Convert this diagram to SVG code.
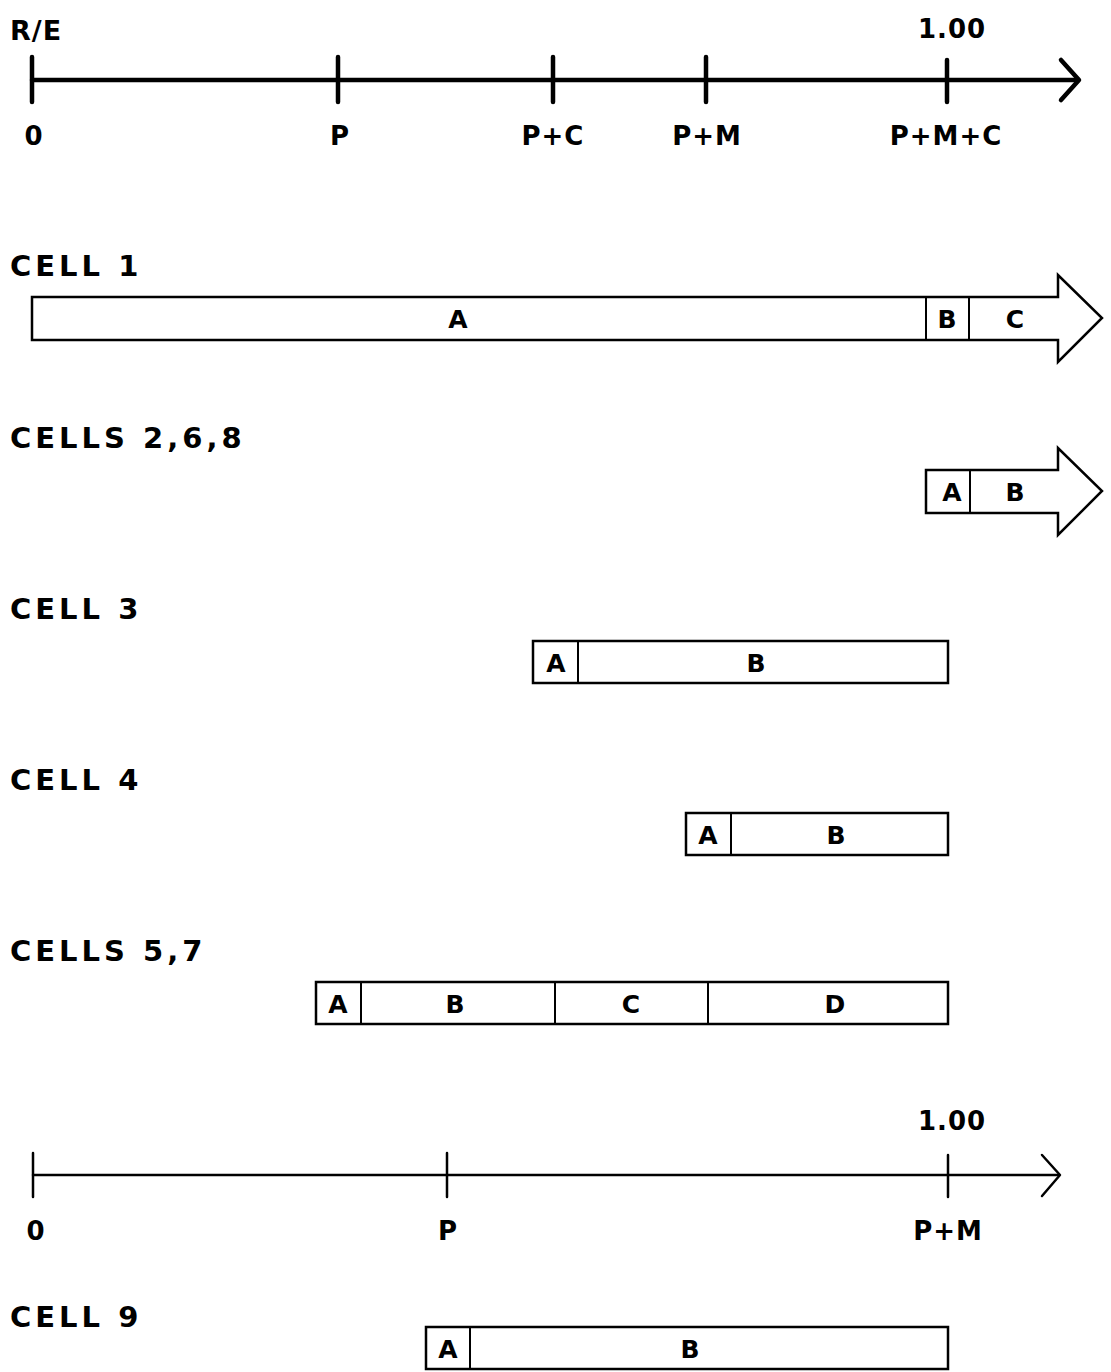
<svg xmlns="http://www.w3.org/2000/svg" width="1111" height="1372" viewBox="0 0 1111 1372">
<style>
text{font-family:"DejaVu Sans","Liberation Sans",sans-serif;font-weight:bold;fill:#000}
.h{font-size:29px;letter-spacing:4px}
.ax{font-size:26px;letter-spacing:1px;text-anchor:middle}
.bx{font-size:25px;text-anchor:middle}
.box{fill:#fff;stroke:#000;stroke-width:2.5}
.div{stroke:#000;stroke-width:2}
.axis{fill:none;stroke:#000;stroke-linecap:round;stroke-linejoin:round}
</style>
<rect width="1111" height="1372" fill="#fff"/>
<g id="axis-top">
<text class="h" x="10" y="40" style="font-size:27px;letter-spacing:1px">R/E</text>
<text class="ax" x="952" y="38">1.00</text>
<g class="axis" stroke-width="4.5">
<line x1="32" y1="80" x2="1078" y2="80"/>
<line x1="32" y1="57" x2="32" y2="102"/>
<line x1="338" y1="57" x2="338" y2="102"/>
<line x1="553" y1="57" x2="553" y2="102"/>
<line x1="706" y1="57" x2="706" y2="102"/>
<line x1="947" y1="60" x2="947" y2="102"/>
<polyline points="1061,60 1079,80 1061,100"/>
</g>
<text class="ax" x="34" y="145">0</text>
<text class="ax" x="340" y="145">P</text>
<text class="ax" x="553" y="145">P+C</text>
<text class="ax" x="707" y="145">P+M</text>
<text class="ax" x="946" y="145">P+M+C</text>
</g>
<g id="cell1">
<text class="h" x="10" y="276">CELL 1</text>
<polygon class="box" points="32,297 1058,297 1058,275 1102,318 1058,362 1058,340 32,340"/>
<line class="div" x1="926" y1="297" x2="926" y2="340"/>
<line class="div" x1="969" y1="297" x2="969" y2="340"/>
<text class="bx" x="458" y="328">A</text>
<text class="bx" x="947" y="328">B</text>
<text class="bx" x="1015" y="328">C</text>
</g>
<g id="cells268">
<text class="h" x="10" y="448">CELLS 2,6,8</text>
<polygon class="box" points="926,470 1058,470 1058,448 1102,491 1058,535 1058,513 926,513"/>
<line class="div" x1="970" y1="470" x2="970" y2="513"/>
<text class="bx" x="952" y="501">A</text>
<text class="bx" x="1015" y="501">B</text>
</g>
<g id="cell3">
<text class="h" x="10" y="619">CELL 3</text>
<rect class="box" x="533" y="641" width="415" height="42"/>
<line class="div" x1="578" y1="641" x2="578" y2="683"/>
<text class="bx" x="556" y="672">A</text>
<text class="bx" x="756" y="672">B</text>
</g>
<g id="cell4">
<text class="h" x="10" y="790">CELL 4</text>
<rect class="box" x="686" y="813" width="262" height="42"/>
<line class="div" x1="731" y1="813" x2="731" y2="855"/>
<text class="bx" x="708" y="844">A</text>
<text class="bx" x="836" y="844">B</text>
</g>
<g id="cells57">
<text class="h" x="10" y="961">CELLS 5,7</text>
<rect class="box" x="316" y="982" width="632" height="42"/>
<line class="div" x1="361" y1="982" x2="361" y2="1024"/>
<line class="div" x1="555" y1="982" x2="555" y2="1024"/>
<line class="div" x1="708" y1="982" x2="708" y2="1024"/>
<text class="bx" x="338" y="1013">A</text>
<text class="bx" x="455" y="1013">B</text>
<text class="bx" x="631" y="1013">C</text>
<text class="bx" x="835" y="1013">D</text>
</g>
<g id="axis-bottom">
<text class="ax" x="952" y="1130">1.00</text>
<g class="axis" stroke-width="2.5">
<line x1="33" y1="1175" x2="1058" y2="1175"/>
<line x1="33" y1="1153" x2="33" y2="1197"/>
<line x1="447" y1="1153" x2="447" y2="1197"/>
<line x1="948" y1="1155" x2="948" y2="1197"/>
<polyline points="1042,1155 1060,1175 1042,1196"/>
</g>
<text class="ax" x="36" y="1240">0</text>
<text class="ax" x="448" y="1240">P</text>
<text class="ax" x="948" y="1240">P+M</text>
</g>
<g id="cell9">
<text class="h" x="10" y="1327">CELL 9</text>
<rect class="box" x="426" y="1327" width="522" height="42"/>
<line class="div" x1="470" y1="1327" x2="470" y2="1369"/>
<text class="bx" x="448" y="1358">A</text>
<text class="bx" x="690" y="1358">B</text>
</g>
</svg>
